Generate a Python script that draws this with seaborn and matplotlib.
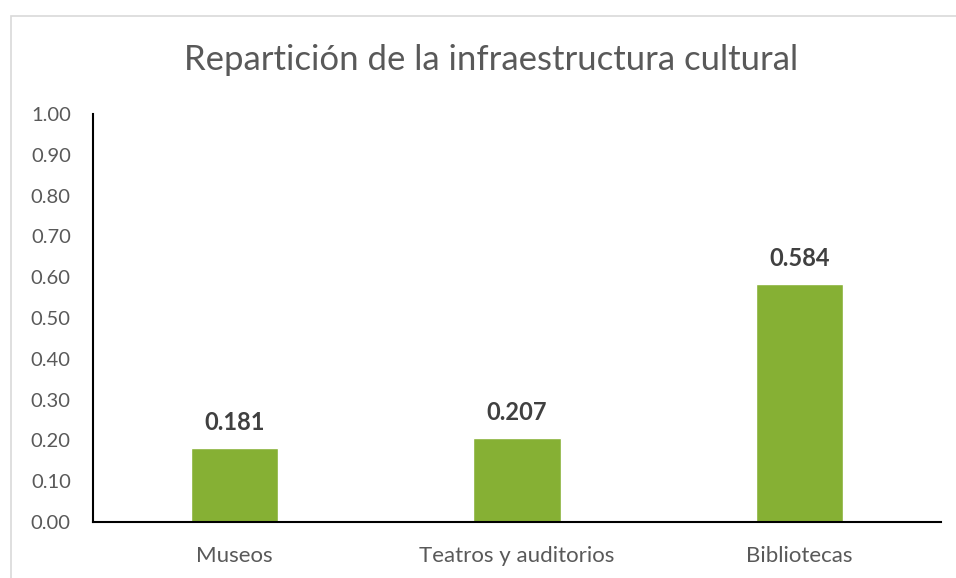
import matplotlib
matplotlib.use("Agg")
import matplotlib.pyplot as plt
import seaborn as sns
import pandas as pd
from matplotlib.patches import Rectangle

# datos
categorias = ["Museos", "Teatros y auditorios", "Bibliotecas"]
valores = [0.181, 0.207, 0.584]
ticks_y = [0.0, 0.1, 0.2, 0.3, 0.4, 0.5, 0.6, 0.7, 0.8, 0.9, 1.0]

df = pd.DataFrame({"categoria": categorias, "valor": valores})

sns.set_style("white")
plt.rcParams["font.family"] = ["Lato", "DejaVu Sans"]

fig = plt.figure(figsize=(9.56, 5.78), dpi=100)
ax = fig.add_axes([93 / 956, 56 / 578, 848 / 956, 408 / 578])

# marco gris del grafico (solo se ven borde superior e izquierdo)
fig.patches.append(Rectangle((10.5 / 956, -0.2), 1.2, 0.2 + (578 - 15.5) / 578,
                             transform=fig.transFigure, fill=False,
                             edgecolor="#D9D9D9", linewidth=1.2))

sns.barplot(data=df, x="categoria", y="valor", color="#86B034", width=0.31,
            saturation=1, ax=ax)

ax.set_ylim(0, 1.0)
ax.set_xlim(-0.5, 2.5)
ax.set_yticks(ticks_y)
ax.set_yticklabels([f"{t:.2f}" for t in ticks_y])
ax.set_xlabel("")
ax.set_ylabel("")
ax.tick_params(axis="y", length=0, pad=16, labelsize=14.5, labelcolor="#595959")
ax.tick_params(axis="x", length=0, pad=17, labelsize=16, labelcolor="#595959")

for s in ["top", "right"]:
    ax.spines[s].set_visible(False)
for s in ["left", "bottom"]:
    ax.spines[s].set_color("#000000")
    ax.spines[s].set_linewidth(1.5)

for i, v in enumerate(valores):
    ax.annotate(f"{v:.3f}", (i, v), xytext=(0, 10), textcoords="offset points",
                ha="center", va="bottom", fontsize=17, fontweight="bold", color="#404040")

fig.text(491 / 956, 1 - 60 / 578, "Repartición de la infraestructura cultural",
         ha="center", va="center", fontsize=25, color="#595959")

fig.savefig("out.png", dpi=100)
